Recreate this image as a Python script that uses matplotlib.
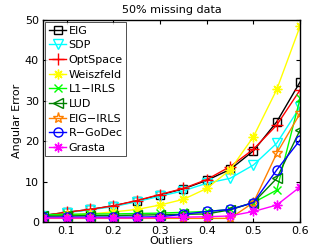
import matplotlib
matplotlib.use("Agg")
import matplotlib.pyplot as plt

outliers = [0.05, 0.1, 0.15, 0.2, 0.25, 0.3, 0.35, 0.4, 0.45, 0.5, 0.55, 0.6]
eig = [1.6, 2.4, 3.1, 4.0, 5.2, 6.7, 8.2, 10.3, 13.0, 17.6, 24.8, 34.7]
sdp = [1.5, 2.3, 3.0, 3.8, 5.0, 6.4, 7.7, 9.6, 10.8, 14.1, 19.5, 28.5]
optspace = [1.6, 2.4, 3.1, 4.0, 5.3, 6.8, 8.3, 10.5, 13.7, 18.0, 24.0, 32.7]
weiszfeld = [1.3, 1.7, 2.0, 2.5, 3.1, 4.2, 5.6, 8.3, 12.9, 21.1, 32.8, 48.5]
l1irls = [1.8, 1.9, 2.0, 2.0, 2.1, 2.2, 2.4, 2.6, 3.1, 4.8, 7.9, 30.6]
lud = [1.5, 1.5, 1.6, 1.6, 1.7, 1.8, 1.9, 2.0, 3.0, 4.8, 10.8, 22.8]
eigirls = [0.9, 0.9, 0.9, 0.9, 0.9, 0.9, 0.9, 0.9, 0.9, 4.8, 17.0, 26.9]
rgodec = [1.2, 1.2, 1.2, 1.2, 1.2, 1.3, 1.9, 2.6, 3.1, 4.8, 12.9, 20.3]
grasta = [1.0, 1.0, 1.0, 1.0, 1.0, 1.1, 1.2, 1.3, 1.5, 2.6, 4.2, 8.7]

xticks = [0.1, 0.2, 0.3, 0.4, 0.5, 0.6]
yticks = [0, 10, 20, 30, 40, 50]

fig = plt.figure(figsize=(3.32, 2.5), dpi=100)
ax = fig.add_axes([0.13, 0.112, 0.774, 0.808])

ast = (8, 2, 0)
series = [
    ("EIG", eig, dict(color="black", marker="s", mfc="none", markersize=6)),
    ("SDP", sdp, dict(color=(0, 1, 1), marker="v", mfc="none", markersize=6.5)),
    ("OptSpace", optspace, dict(color="red", marker="+", markersize=8)),
    ("Weiszfeld", weiszfeld, dict(color=(1, 1, 0), marker=ast, markersize=7)),
    ("L1\u2212IRLS", l1irls, dict(color=(0, 1, 0), marker="x", markersize=5.5)),
    ("LUD", lud, dict(color=(0, 0.5, 0), marker="<", mfc="none", markersize=6.5)),
    ("EIG\u2212IRLS", eigirls, dict(color=(1, 0.5, 0), marker="*", mfc="none", markersize=8)),
    ("R\u2212GoDec", rgodec, dict(color="blue", marker="o", mfc="none", markersize=6.5)),
    ("Grasta", grasta, dict(color=(1, 0, 1), marker=ast, markersize=7)),
]
for label, ys, kw in series:
    ax.plot(outliers, ys, label=label, linewidth=1, markeredgewidth=1, **kw)

ax.set_xlim(0.05, 0.6)
ax.set_ylim(0, 50)
ax.set_xticks(xticks)
ax.set_xticklabels(["0.1", "0.2", "0.3", "0.4", "0.5", "0.6"])
ax.set_yticks(yticks)
ax.tick_params(direction="in", top=True, right=True, labelsize=8, length=3, pad=3)
for s in ax.spines.values():
    s.set_linewidth(1)
ax.set_xlabel("Outliers", fontsize=8, labelpad=0)
ax.set_ylabel("Angular Error", fontsize=8, labelpad=2)
ax.set_title("50% missing data", fontsize=8, pad=5)

leg = ax.legend(loc="upper left", fontsize=8, frameon=True, fancybox=False,
                borderpad=0.3, labelspacing=0.42, handlelength=1.6,
                handletextpad=0.2, borderaxespad=0.2, edgecolor="black")
leg.get_frame().set_linewidth(0.6)

fig.savefig("out.png", dpi=100)
